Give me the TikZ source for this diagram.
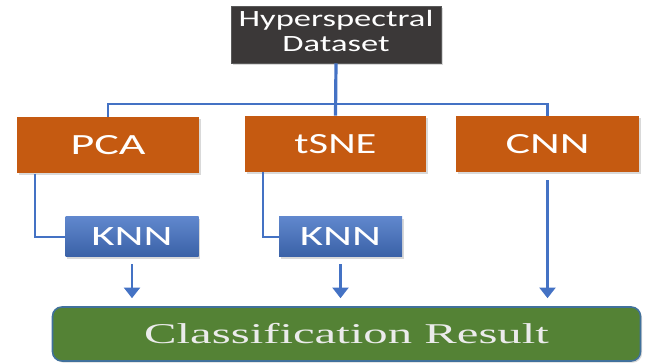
\documentclass[tikz,border=0pt]{standalone}
\usepackage{fontspec}
\usepackage{graphicx}
\usetikzlibrary{arrows.meta,shadows}
\newfontfamily\boxfont{Carlito}
\newfontfamily\resultfont{Liberation Serif}
\newcommand{\hstretch}[2][1.55]{\scalebox{#1}[1]{#2}}
\definecolor{darkbox}{HTML}{3B3838}
\definecolor{orangebox}{HTML}{C55A11}
\definecolor{lineblue}{HTML}{4472C4}
\definecolor{greenbox}{HTML}{548235}
\definecolor{greenrim}{HTML}{41719C}

\begin{document}
\begin{tikzpicture}[x=0.75pt,y=-0.75pt,->,>={Triangle[width=12pt,length=8pt]},
        box/.style={inner sep=0pt,text=white,font=\boxfont,
          drop shadow={shadow xshift=1.2pt,shadow yshift=-1.2pt,opacity=0.3}},
        method/.style={box,fill=orangebox,minimum width=136.5pt,minimum height=42pt,
          font=\boxfont\fontsize{22}{26}\selectfont},
        knn/.style={box,top color=lineblue!85!white,bottom color=lineblue!85!black,
          minimum height=30pt,font=\boxfont\fontsize{21}{25}\selectfont},
        link/.style={-,draw=lineblue,line width=1.8pt},
        flow/.style={draw=lineblue,line width=1.8pt}]

  \useasboundingbox (0,0) rectangle (646,363);

  \node[box,fill=darkbox,draw=gray!70!black,minimum width=157.5pt,minimum height=42.75pt,
        font=\boxfont\fontsize{17.5}{18.75}\selectfont] (Hyper Data) at (336,34.5)
        {\hstretch[1.48]{\begin{tabular}{@{}c@{}}Hyperspectral\\Dataset\end{tabular}}};

  \node[method] (PCA) at (108,145.5) {\hstretch[1.57]{PCA}};
  \node[method,minimum width=135.75pt] (tSNE) at (335.5,144) {\hstretch[1.45]{tSNE}};
  \node[method,minimum width=137.25pt] (CNN) at (547.5,144) {\hstretch[1.57]{CNN}};

  \node[knn,minimum width=99.75pt] (KNN PCA) at (132,237) {\hstretch[1.6]{KNN}};
  \node[knn,minimum width=92.25pt] (KNN tSNE) at (340.5,237) {\hstretch[1.6]{KNN}};

  \node[box,fill=greenbox,draw=greenrim,line width=1.2pt,rounded corners=7pt,
        minimum width=441pt,minimum height=40.5pt,text=white!92!black,
        font=\resultfont\fontsize{21.5}{25}\selectfont] (Result) at (346.5,334)
        {\hstretch[1.7]{Classification Result}};

  \coordinate (bus) at (336,104);

  % tree from the dataset
  \draw[link,line width=2.4pt] (Hyper Data.south) -- (tSNE.north);
  \draw[link] (PCA.north) |- (bus) -| (CNN.north);

  % reduction into KNN
  \draw[link] ([xshift=13.5pt]PCA.south west) |- (KNN PCA.west);
  \draw[link] ([xshift=13.5pt]tSNE.south west) |- (KNN tSNE.west);

  % results
  \draw[flow,shorten <=5.25pt,shorten >=6pt] (KNN PCA.south) -- (KNN PCA.south |- Result.north);
  \draw[flow,shorten <=5.25pt,shorten >=6pt] (KNN tSNE.south) -- (KNN tSNE.south |- Result.north);
  \draw[flow,shorten <=6pt,shorten >=6pt] (CNN.south) -- (CNN.south |- Result.north);
\end{tikzpicture}
\end{document}
